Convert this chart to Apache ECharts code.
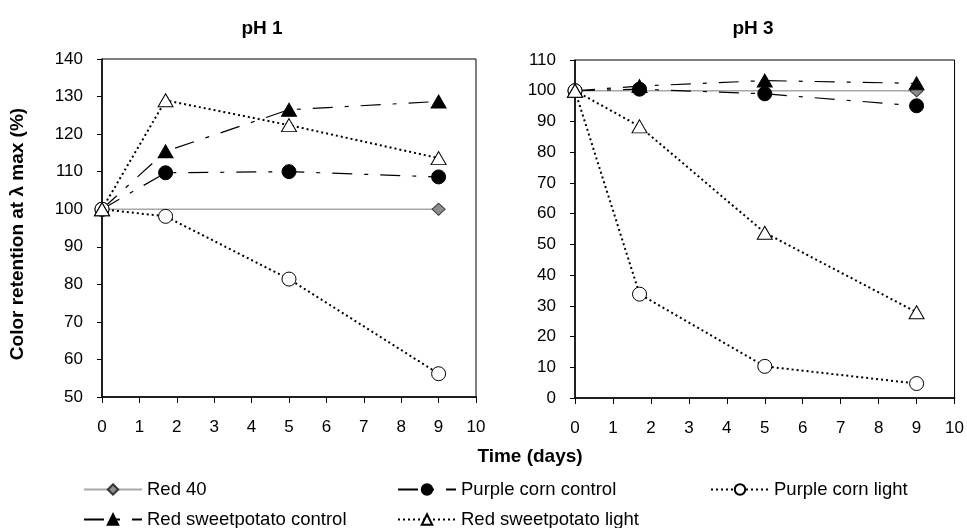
<!DOCTYPE html>
<html>
<head>
<meta charset="utf-8">
<script src="https://cdn.jsdelivr.net/npm/echarts@6/dist/echarts.min.js"></script>
<style>html,body{margin:0;padding:0;background:#fff}#c{width:967px;height:528px}</style>
</head>
<body>
<div id="c"></div>
<script>
// ---- data ----
var days = [0, 1.7, 5, 9];
var red40Days = [0, 9];
var seriesNames = ['Red 40', 'Purple corn control', 'Purple corn light', 'Red sweetpotato control', 'Red sweetpotato light'];
var xTicks = [0, 1, 2, 3, 4, 5, 6, 7, 8, 9, 10];

// pH 1
var ph1Red40 = [100, 100];
var ph1PurpleControl = [100, 109.7, 110.0, 108.6];
var ph1PurpleLight = [100, 98.1, 81.4, 56.2];
var ph1SweetControl = [100, 115.4, 126.5, 128.7];
var ph1SweetLight = [100, 129.0, 122.4, 113.6];

// pH 3
var ph3Red40 = [100, 100];
var ph3PurpleControl = [100, 100.5, 99.0, 95.1];
var ph3PurpleLight = [100, 33.8, 10.3, 4.7];
var ph3SweetControl = [100, 101.5, 103.3, 102.4];
var ph3SweetLight = [100, 88.4, 53.8, 27.9];

var titles = ['pH 1', 'pH 3'];
var xName = 'Time (days)';
var yName = 'Color retention at \u03bb max (%)';

// ---- build ----
function pts(xs, ys) { return xs.map(function (x, i) { return [x, ys[i]]; }); }
var FONT = '"Liberation Sans", Arial, Helvetica, sans-serif';
var dashDot = [20, 12, 4, 12];
var dotted = [2, 3];

var styles = {
  'Red 40': { symbol: 'diamond', size: [13, 12], fill: '#8c8c8c', border: '#333', line: '#a8a8a8', width: 1.5, type: 'solid' },
  'Purple corn control': { symbol: 'circle', size: 14, fill: '#000', border: '#000', line: '#000', width: 1.2, type: dashDot },
  'Purple corn light': { symbol: 'circle', size: 14, fill: '#fff', border: '#000', line: '#000', width: 2, type: dotted },
  'Red sweetpotato control': { symbol: 'triangle', size: [15, 13], fill: '#000', border: '#000', line: '#000', width: 1.2, type: dashDot },
  'Red sweetpotato light': { symbol: 'triangle', size: [15, 13], fill: '#fff', border: '#000', line: '#000', width: 2, type: dotted }
};

function mk(name, idx, xs, ys) {
  var s = styles[name];
  return {
    name: name, type: 'line', xAxisIndex: idx, yAxisIndex: idx,
    data: pts(xs, ys), symbol: s.symbol, symbolSize: s.size, showAllSymbol: true,
    lineStyle: { color: s.line, width: s.width, type: s.type },
    itemStyle: { color: s.fill, borderColor: s.border, borderWidth: 1 },
    animation: false, z: 2
  };
}

var series = [
  mk('Red 40', 0, red40Days, ph1Red40),
  mk('Purple corn control', 0, days, ph1PurpleControl),
  mk('Purple corn light', 0, days, ph1PurpleLight),
  mk('Red sweetpotato control', 0, days, ph1SweetControl),
  mk('Red sweetpotato light', 0, days, ph1SweetLight),
  mk('Red 40', 1, red40Days, ph3Red40),
  mk('Purple corn control', 1, days, ph3PurpleControl),
  mk('Purple corn light', 1, days, ph3PurpleLight),
  mk('Red sweetpotato control', 1, days, ph3SweetControl),
  mk('Red sweetpotato light', 1, days, ph3SweetLight)
];

function xAxis(idx) {
  return {
    type: 'value', gridIndex: idx, min: xTicks[0], max: xTicks[xTicks.length - 1], interval: 1,
    axisLine: { lineStyle: { color: '#000', width: 1.5 } },
    axisTick: { show: true, length: 6, lineStyle: { color: '#000' } },
    axisLabel: { color: '#000', fontSize: 17, fontFamily: FONT, margin: 22 },
    splitLine: { show: false }
  };
}
function yAxis(idx, min, max) {
  return {
    type: 'value', gridIndex: idx, min: min, max: max, interval: 10,
    axisLine: { show: true, lineStyle: { color: '#000', width: 1.5 } },
    axisTick: { show: true, length: 5, lineStyle: { color: '#000' } },
    axisLabel: { color: '#000', fontSize: 17, fontFamily: FONT, margin: 19 },
    splitLine: { show: false }
  };
}

function legend(name, left, top) {
  return {
    data: [name], left: left, top: top, itemWidth: 58, itemHeight: 13, itemGap: 5, padding: 0,
    textStyle: { color: '#000', fontSize: 18.5, fontFamily: FONT }, selectedMode: false
  };
}

var boldText = { fontSize: 19, fontWeight: 'bold', color: '#000', fontFamily: FONT };

var option = {
  backgroundColor: '#fff',
  animation: false,
  title: [
    { text: titles[0], left: 262, top: 19, padding: 0, textAlign: 'center', textStyle: boldText },
    { text: titles[1], left: 753, top: 19, padding: 0, textAlign: 'center', textStyle: boldText },
    { text: xName, left: 530, top: 447, padding: 0, textAlign: 'center', textStyle: boldText }
  ],
  graphic: [{
    type: 'text', x: 18, y: 234, rotation: Math.PI / 2,
    style: { text: yName, fill: '#000', font: 'bold 19px ' + FONT, textAlign: 'center', textVerticalAlign: 'middle' }
  }],
  grid: [
    { left: 102, right: 491, top: 59, bottom: 131, show: true, borderColor: '#000', borderWidth: 1, backgroundColor: 'transparent' },
    { left: 575, right: 6, top: 60, bottom: 130, show: true, borderColor: '#000', borderWidth: 1, backgroundColor: 'transparent' }
  ],
  xAxis: [xAxis(0), xAxis(1)],
  yAxis: [yAxis(0, 50, 140), yAxis(1, 0, 110)],
  legend: [
    legend(seriesNames[0], 83, 480),
    legend(seriesNames[1], 397, 480),
    legend(seriesNames[2], 710, 480),
    legend(seriesNames[3], 83, 510),
    legend(seriesNames[4], 397, 510)
  ],
  series: series
};

var chart = echarts.init(document.getElementById('c'), null, { renderer: 'canvas' });
chart.setOption(option);
</script>
</body>
</html>
